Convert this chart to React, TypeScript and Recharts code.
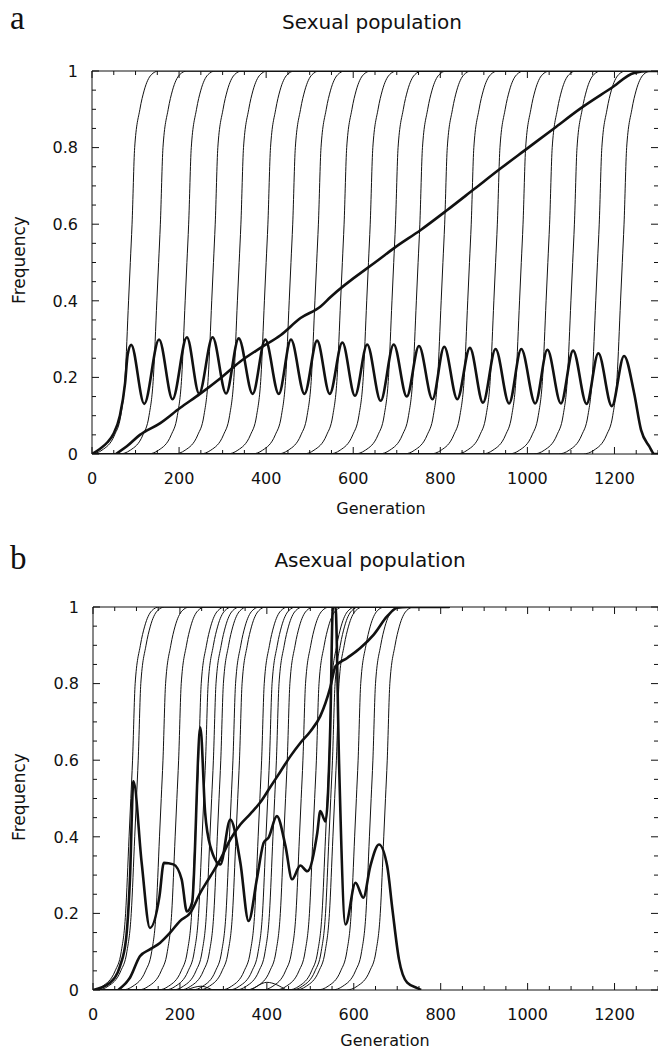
import { LineChart, Line, XAxis, YAxis } from "recharts";

// sigmoid sweeps share one shape: offset from the 0.5 crossing (generations) -> frequency
const SIG_OFFSETS = [-90, -65, -36, -22, -12, -4, 0, 4, 10, 22, 32, 48, 65];
const SIG_LEVELS = [0, 0.01, 0.05, 0.1, 0.2, 0.4, 0.5, 0.6, 0.8, 0.9, 0.95, 0.99, 1];

// generation where each thin curve crosses 0.5
const SEX_MIDS = [88, 153, 218, 279, 338, 400, 457, 516, 575, 635, 693, 749, 806, 867, 927, 986, 1047, 1104, 1161, 1218];
const ASEX_MIDS = [87, 100, 157, 193, 239, 255, 273, 290, 318, 333, 384, 402, 418, 443, 479, 510, 539, 547, 556, 606, 640, 673];

// thick oscillating curve, sexual
const SEX_OSC_G = [0, 18, 35, 49, 64, 76, 82, 90, 120, 154, 185, 218, 246, 277, 308, 337, 369, 398, 429, 457, 488, 517, 546, 575, 604, 632, 663, 693, 723, 751, 782, 809, 839, 868, 898, 927, 958, 986, 1018, 1046, 1077, 1105, 1136, 1163, 1194, 1222, 1245, 1261, 1280, 1292, 1300];
const SEX_OSC_F = [0, 0.013, 0.03, 0.052, 0.1, 0.185, 0.26, 0.285, 0.131, 0.299, 0.143, 0.305, 0.158, 0.305, 0.158, 0.302, 0.157, 0.299, 0.157, 0.299, 0.157, 0.296, 0.157, 0.291, 0.152, 0.286, 0.139, 0.286, 0.15, 0.282, 0.143, 0.28, 0.143, 0.277, 0.134, 0.274, 0.132, 0.274, 0.132, 0.272, 0.132, 0.27, 0.131, 0.263, 0.125, 0.256, 0.16, 0.063, 0.02, 0, 0];

// thick rising curve, sexual
const SEX_RISE_G = [55, 80, 110, 156, 202, 248, 295, 340, 387, 433, 479, 525, 548, 663, 693, 755, 816, 877, 939, 1000, 1061, 1123, 1192, 1245, 1280, 1300];
const SEX_RISE_F = [0, 0.02, 0.05, 0.08, 0.12, 0.157, 0.198, 0.241, 0.277, 0.31, 0.355, 0.385, 0.41, 0.511, 0.537, 0.585, 0.637, 0.691, 0.746, 0.798, 0.85, 0.903, 0.955, 0.995, 1, 1];

// thick fluctuating curve, asexual
const ASEX_OSC_G = [0, 39, 62, 76, 85, 93, 112, 131, 153, 163, 185, 204, 216, 228, 247, 258, 270, 293, 316, 339, 358, 377, 393, 404, 423, 443, 458, 477, 493, 516, 523, 535, 546, 552, 558, 566, 581, 604, 622, 638, 658, 677, 689, 704, 723, 746, 755];
const ASEX_OSC_F = [0, 0.019, 0.062, 0.132, 0.289, 0.545, 0.332, 0.162, 0.245, 0.332, 0.328, 0.289, 0.205, 0.228, 0.685, 0.463, 0.375, 0.328, 0.445, 0.333, 0.18, 0.289, 0.385, 0.398, 0.454, 0.375, 0.289, 0.325, 0.31, 0.41, 0.467, 0.44, 0.69, 1, 1, 0.6, 0.171, 0.28, 0.241, 0.323, 0.38, 0.323, 0.21, 0.08, 0.019, 0.005, 0];

// thick rising curve, asexual
const ASEX_RISE_G = [58, 85, 108, 131, 154, 177, 200, 224, 247, 270, 293, 316, 339, 362, 385, 408, 431, 454, 477, 500, 523, 546, 558, 585, 615, 646, 677, 700, 723, 820];
const ASEX_RISE_F = [0, 0.032, 0.088, 0.106, 0.123, 0.149, 0.18, 0.202, 0.254, 0.297, 0.341, 0.393, 0.432, 0.46, 0.49, 0.53, 0.57, 0.61, 0.645, 0.675, 0.715, 0.79, 0.845, 0.867, 0.893, 0.928, 0.976, 0.998, 1, 1];

// small failed sweeps near the floor, asexual
const ASEX_BUMP_G = [215, 250, 280, 355, 400, 445];
const ASEX_BUMP_F = [0, 0.01, 0, 0, 0.02, 0];

const X_TICKS = [0, 50, 100, 150, 200, 250, 300, 350, 400, 450, 500, 550, 600, 650, 700, 750, 800, 850, 900, 950, 1000, 1050, 1100, 1150, 1200, 1250, 1300];
const X_LABELS = [0, 200, 400, 600, 800, 1000, 1200];
const Y_TICKS = [0, 0.05, 0.1, 0.15, 0.2, 0.25, 0.3, 0.35, 0.4, 0.45, 0.5, 0.55, 0.6, 0.65, 0.7, 0.75, 0.8, 0.85, 0.9, 0.95, 1];
const Y_LABELS = [0, 0.2, 0.4, 0.6, 0.8, 1];

const SANS = '"DejaVu Sans", sans-serif';
const SERIF = '"Liberation Serif", "DejaVu Serif", serif';
const INK = "#111";

type Pt = { g: number; f: number };

const zip = (g: number[], f: number[]): Pt[] => g.map((v, i) => ({ g: v, f: f[i] }));

function sweep(mid: number, end: number): Pt[] {
  const pts = SIG_OFFSETS.map((o, i) => ({ g: mid + o, f: SIG_LEVELS[i] })).filter((p) => p.g > 0);
  return [{ g: 0, f: 0 }, ...pts, { g: end, f: 1 }];
}

const BottomTick = ({ x, y, payload }: any) => {
  const major = X_LABELS.includes(payload.value);
  return (
    <g>
      <line x1={x} x2={x} y1={y} y2={y - (major ? 7 : 4)} stroke={INK} />
      {major && (
        <text x={x} y={y + 29.5} textAnchor="middle" fontSize={16} fontFamily={SANS} fill={INK}>
          {payload.value}
        </text>
      )}
    </g>
  );
};

const TopTick = ({ x, y, payload }: any) => {
  const major = X_LABELS.includes(payload.value);
  return <line x1={x} x2={x} y1={y} y2={y + (major ? 7 : 4)} stroke={INK} />;
};

const LeftTick = ({ x, y, payload }: any) => {
  const major = Y_LABELS.includes(payload.value);
  return (
    <g>
      <line x1={x} x2={x + (major ? 7 : 4)} y1={y} y2={y} stroke={INK} />
      {major && (
        <text x={x - 14} y={y + 5.8} textAnchor="end" fontSize={16} fontFamily={SANS} fill={INK}>
          {String(payload.value)}
        </text>
      )}
    </g>
  );
};

const RightTick = ({ x, y, payload }: any) => {
  const major = Y_LABELS.includes(payload.value);
  return <line x1={x} x2={x - (major ? 7 : 4)} y1={y} y2={y} stroke={INK} />;
};

type PanelProps = {
  top: number;
  height: number;
  margin: { top: number; right: number; bottom: number; left: number };
  mids: number[];
  end: number;
  thick: Pt[][];
  thin: Pt[][];
};

function Panel({ top, height, margin, mids, end, thick, thin }: PanelProps) {
  return (
    <div style={{ position: "absolute", left: 0, top }}>
      <LineChart width={660} height={height} margin={margin}>
        <XAxis
          xAxisId="b"
          dataKey="g"
          type="number"
          domain={[0, 1300]}
          ticks={X_TICKS}
          interval={0}
          allowDataOverflow
          height={30}
          tickSize={0}
          tickMargin={0}
          tickLine={false}
          stroke={INK}
          tick={BottomTick}
        />
        <XAxis
          xAxisId="t"
          orientation="top"
          dataKey="g"
          type="number"
          domain={[0, 1300]}
          ticks={X_TICKS}
          interval={0}
          allowDataOverflow
          height={1}
          tickSize={0}
          tickMargin={0}
          tickLine={false}
          stroke={INK}
          tick={TopTick}
        />
        <YAxis
          yAxisId="l"
          type="number"
          domain={[0, 1]}
          ticks={Y_TICKS}
          interval={0}
          allowDataOverflow
          width={40}
          tickSize={0}
          tickMargin={0}
          tickLine={false}
          stroke={INK}
          tick={LeftTick}
        />
        <YAxis
          yAxisId="r"
          orientation="right"
          type="number"
          domain={[0, 1]}
          ticks={Y_TICKS}
          interval={0}
          allowDataOverflow
          width={1}
          tickSize={0}
          tickMargin={0}
          tickLine={false}
          axisLine={false}
          stroke={INK}
          tick={RightTick}
        />
        {mids.map((m) => (
          <Line
            key={"s" + m}
            xAxisId="b"
            yAxisId="l"
            data={sweep(m, end)}
            dataKey="f"
            type="monotone"
            stroke={INK}
            strokeWidth={1}
            dot={false}
            isAnimationActive={false}
          />
        ))}
        {thin.map((d, i) => (
          <Line
            key={"n" + i}
            xAxisId="b"
            yAxisId="l"
            data={d}
            dataKey="f"
            type="monotone"
            stroke={INK}
            strokeWidth={1}
            dot={false}
            isAnimationActive={false}
          />
        ))}
        {thick.map((d, i) => (
          <Line
            key={"k" + i}
            xAxisId="b"
            yAxisId="l"
            data={d}
            dataKey="f"
            type="monotone"
            stroke={INK}
            strokeWidth={2.6}
            dot={false}
            isAnimationActive={false}
          />
        ))}
      </LineChart>
    </div>
  );
}

export default function App() {
  return (
    <div
      style={{
        position: "absolute",
        left: 0,
        top: 0,
        width: 658,
        height: 1053,
        overflow: "hidden",
        background: "#fff",
      }}
    >
      <Panel
        top={0}
        height={526}
        margin={{ top: 70, right: 1, bottom: 42, left: 52 }}
        mids={SEX_MIDS}
        end={1300}
        thin={[]}
        thick={[zip(SEX_OSC_G, SEX_OSC_F), zip(SEX_RISE_G, SEX_RISE_F)]}
      />
      <Panel
        top={526}
        height={527}
        margin={{ top: 80, right: 1, bottom: 33, left: 53 }}
        mids={ASEX_MIDS}
        end={820}
        thin={[zip(ASEX_BUMP_G, ASEX_BUMP_F)]}
        thick={[zip(ASEX_OSC_G, ASEX_OSC_F), zip(ASEX_RISE_G, ASEX_RISE_F)]}
      />
      <svg width={658} height={1053} style={{ position: "absolute", left: 0, top: 0, pointerEvents: "none" }}>
        <g fill={INK}>
          <text x={10} y={29} fontSize={33} fontFamily={SERIF}>a</text>
          <text x={10} y={569} fontSize={33} fontFamily={SERIF}>b</text>
          <text x={372} y={28.5} fontSize={20} fontFamily={SANS} textAnchor="middle">Sexual population</text>
          <text x={370} y={567} fontSize={20} fontFamily={SANS} textAnchor="middle">Asexual population</text>
          <text x={381} y={514} fontSize={16} fontFamily={SANS} textAnchor="middle">Generation</text>
          <text x={385} y={1046} fontSize={16} fontFamily={SANS} textAnchor="middle">Generation</text>
          <text transform="translate(25 260) rotate(-90)" fontSize={17} fontFamily={SANS} textAnchor="middle">Frequency</text>
          <text transform="translate(25 797) rotate(-90)" fontSize={17} fontFamily={SANS} textAnchor="middle">Frequency</text>
        </g>
      </svg>
    </div>
  );
}
